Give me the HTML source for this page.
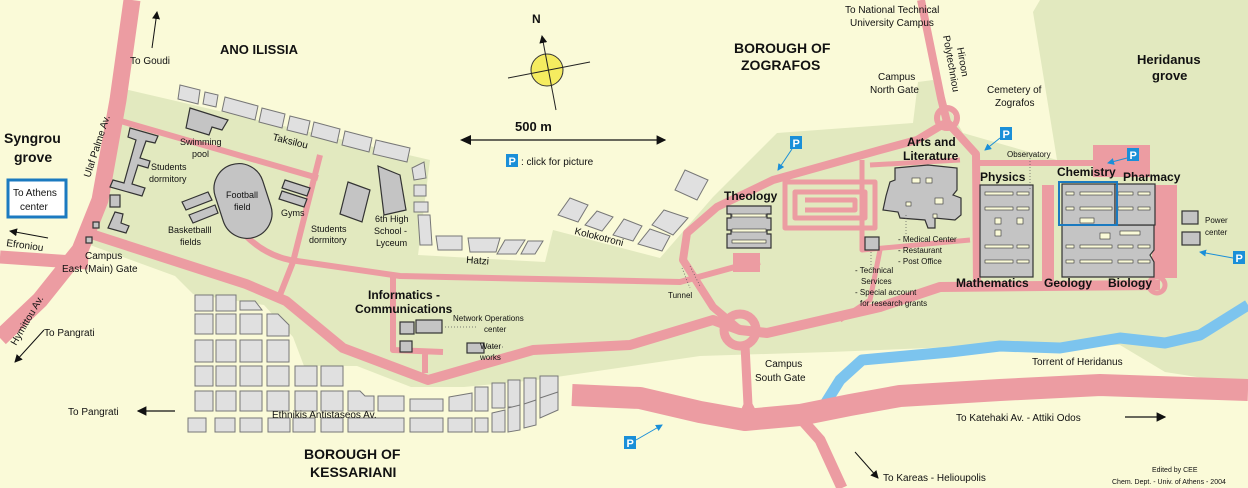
<!DOCTYPE html>
<html><head><meta charset="utf-8"><style>
html,body{margin:0;padding:0;background:#fafad8;}
svg{display:block;font-family:"Liberation Sans",sans-serif;}
.s{font-size:10px;fill:#111;}
.xs{font-size:9px;fill:#111;}
.b{font-size:12px;font-weight:bold;fill:#111;}
.h{font-size:14px;font-weight:bold;fill:#111;}
.r{fill:none;stroke:#ec9ca2;stroke-linejoin:round;stroke-linecap:butt;}
.bk{fill:#e0e0e0;stroke:#777;stroke-width:1;}
.bd{fill:#c4c4c4;stroke:#333;stroke-width:1.2;}
</style></head><body>
<svg width="1248" height="488" viewBox="0 0 1248 488" xmlns="http://www.w3.org/2000/svg">
<defs>
<g id="P"><rect x="0" y="0" width="12" height="13" fill="#1a8fd8"/><text x="2.5" y="11" style="font-size:11px;font-weight:bold;fill:#fff">P</text></g>
<marker id="ar" markerWidth="8" markerHeight="8" refX="7" refY="4" orient="auto"><path d="M0,0 L8,4 L0,8 Z" fill="#111"/></marker>
<marker id="ab" markerWidth="7" markerHeight="7" refX="6" refY="3.5" orient="auto"><path d="M0,0 L7,3.5 L0,7 Z" fill="#1a8fd8"/></marker>
</defs>
<rect width="1248" height="488" fill="#fafad8"/>
<path d="M120,88 L430,160 L418,255 L545,262 L553,230 L660,258 L713,197 L777,133 L913,123 L918,82 L933,80 L963,133 L1057,160 L1033,12 L1040,0 L1248,0 L1248,385 L1165,372 L1120,345 L1000,345 L880,350 L830,352 L700,356 L536,380 L464,387 L411,387 L357,366 L304,366 L293,337 L264,305 L193,294 L175,276 L90,245 L95,230 Z" fill="#e2e9bf"/>
<path d="M820,412 L840,380 L862,360 L950,352 L1000,346 L1060,348 L1120,338 L1165,343 L1200,335 L1248,305" fill="none" stroke="#7cc4ee" stroke-width="11" stroke-linejoin="round"/>
<path class="r" stroke-width="17" d="M132,0 L118,100 L100,200 L80,250 L40,300 L0,338"/>
<path class="r" stroke-width="13" d="M0,257 L88,263"/>
<path class="r" stroke-width="6" d="M117,120 L318,178"/>
<path class="r" stroke-width="6" d="M320,155 L293,262 L278,300"/>
<path class="r" stroke-width="10" d="M88,233 L246,284 L286,301 L343,348 L428,380 L533,350 L630,345 L713,320 L740,330 L767,333 L880,307 L940,287 L1160,285"/>
<path class="r" stroke-width="6" d="M245,235 Q265,255 290,260 L400,276 L680,282 L735,267 L760,262"/>
<path class="r" stroke-width="6" d="M393,276 L393,350 L443,352 M425,351 L425,373"/>
<path class="r" stroke-width="8" d="M740,330 L713,307 L683,260 L687,233 L717,207 L773,180 L880,150 L917,140 L947,122"/>
<path class="r" stroke-width="8" d="M921,0 L941,98 L947,122 L976,154 L977,287"/>
<circle cx="947" cy="118" r="10" class="r" stroke-width="6"/>
<path class="r" stroke-width="6" d="M975,163 L1150,163"/>
<rect x="1042" y="185" width="12" height="97" fill="#ec9ca2"/>
<rect x="1093" y="145" width="57" height="32" fill="#ec9ca2"/>
<rect x="1152" y="185" width="25" height="93" fill="#ec9ca2"/>
<rect x="1165" y="207" width="12" height="20" fill="#ec9ca2"/>
<circle cx="1157" cy="285" r="8" class="r" stroke-width="5"/>
<rect x="733" y="253" width="27" height="19" fill="#ec9ca2"/>
<circle cx="740" cy="330" r="16" class="r" stroke-width="9"/>
<path class="r" stroke-width="5" d="M785,182 L875,182 L875,228 L785,228 Z M795,192 L865,192 L865,218 L795,218 Z M805,200 L855,200 L855,210 L805,210"/>
<path class="r" stroke-width="5" d="M862,160 L862,250 L970,240 M870,165 L960,160"/>
<path class="r" stroke-width="5" d="M840,320 L870,300 L880,250"/>
<path class="r" stroke-width="22" d="M572,395 L640,398 L700,412 L745,420 L800,415 L850,405 L900,396 L1000,390 L1100,385 L1248,390"/>
<path class="r" stroke-width="9" d="M745,345 L748,405 L738,428 M748,405 L760,428"/>
<path class="r" stroke-width="11" d="M795,412 L820,440 L842,488"/>
<g class="bk">
<path d="M180,85 L200,90 L198,104 L178,99Z"/><path d="M205,92 L218,95 L216,107 L203,104Z"/>
<path d="M225,97 L258,106 L255,120 L222,111Z"/><path d="M262,108 L285,114 L282,128 L259,122Z"/>
<path d="M290,116 L310,121 L307,135 L287,130Z"/><path d="M314,122 L340,129 L337,143 L311,136Z"/>
<path d="M345,131 L372,138 L369,152 L342,145Z"/><path d="M376,140 L410,148 L407,162 L373,154Z"/>
<path d="M412,168 L424,162 L426,178 L414,180Z"/><path d="M414,185 L426,185 L426,196 L414,196Z"/>
<path d="M414,202 L428,202 L428,212 L414,212Z"/><path d="M418,215 L430,215 L432,245 L420,245Z"/>
<path d="M436,236 L462,236 L462,250 L438,250Z"/><path d="M468,238 L500,238 L496,252 L470,252Z"/>
<path d="M505,240 L525,240 L516,254 L497,254Z"/><path d="M528,241 L543,241 L535,254 L521,254Z"/>
<path d="M570,198 L588,205 L578,222 L558,215Z"/><path d="M597,211 L613,217 L602,231 L585,225Z"/>
<path d="M624,219 L642,226 L633,241 L613,235Z"/><path d="M650,229 L670,236 L662,251 L638,244Z"/>
<path d="M664,210 L688,218 L673,235 L652,225Z"/><path d="M685,170 L708,180 L697,200 L675,190Z"/>
</g>
<g class="bk">
<rect x="195" y="295" width="18" height="16"/><rect x="216" y="295" width="20" height="16"/><path d="M240,301 L255,301 L262,310 L240,310Z"/>
<rect x="195" y="314" width="18" height="20"/><rect x="216" y="314" width="20" height="20"/><rect x="240" y="314" width="22" height="20"/><path d="M267,314 L278,314 L289,325 L289,336 L267,336Z"/>
<rect x="195" y="340" width="18" height="22"/><rect x="216" y="340" width="20" height="22"/><rect x="240" y="340" width="22" height="22"/><rect x="267" y="340" width="22" height="22"/>
<rect x="195" y="366" width="18" height="20"/><rect x="216" y="366" width="20" height="20"/><rect x="240" y="366" width="22" height="20"/><rect x="267" y="366" width="22" height="20"/><rect x="295" y="366" width="22" height="20"/><rect x="321" y="366" width="22" height="20"/>
<rect x="195" y="391" width="18" height="20"/><rect x="216" y="391" width="20" height="20"/><rect x="240" y="391" width="22" height="20"/><rect x="267" y="391" width="22" height="20"/><rect x="295" y="391" width="22" height="20"/><rect x="321" y="391" width="22" height="20"/>
<path d="M348,391 L360,391 L365,396 L374,396 L374,411 L348,411Z"/><rect x="378" y="396" width="26" height="15"/><rect x="410" y="399" width="33" height="12"/><path d="M449,397 L472,393 L472,411 L449,411Z"/>
<rect x="475" y="387" width="13" height="24"/><rect x="492" y="383" width="13" height="25"/><rect x="508" y="380" width="12" height="27"/><rect x="524" y="378" width="12" height="26"/><rect x="540" y="376" width="18" height="22"/>
<rect x="188" y="418" width="18" height="14"/><rect x="215" y="418" width="20" height="14"/><rect x="240" y="418" width="22" height="14"/><rect x="268" y="418" width="22" height="14"/><rect x="293" y="418" width="22" height="14"/><rect x="321" y="418" width="22" height="14"/><rect x="348" y="418" width="56" height="14"/><rect x="410" y="418" width="33" height="14"/><rect x="448" y="418" width="24" height="14"/><rect x="475" y="418" width="13" height="14"/><path d="M492,413 L505,410 L505,432 L492,432Z"/><path d="M508,408 L520,405 L520,430 L508,432Z"/><path d="M524,404 L536,400 L536,425 L524,428Z"/><path d="M540,398 L558,392 L558,410 L540,418Z"/>
</g>
<g class="bd">
<path d="M130,128 L158,136 L155,143 L146,141 L140,158 L150,161 L148,168 L138,165 L132,184 L145,188 L142,196 L110,187 L113,180 L124,183 L136,140 L128,137Z"/>
<rect x="110" y="195" width="10" height="12"/><path d="M115,212 L123,214 L121,223 L129,226 L126,233 L108,228Z"/>
<rect x="93" y="222" width="6" height="6"/><rect x="86" y="237" width="6" height="6"/>
<path d="M190,108 L228,120 L222,130 L212,127 L209,135 L186,128Z"/>
<path d="M182,202 L208,192 L212,200 L186,210Z"/><path d="M189,215 L215,205 L218,213 L193,223Z"/>
<rect x="218" y="163" width="50" height="76" rx="25" transform="rotate(-18 243 201)"/>
<path d="M285,180 L310,188 L307,196 L282,188Z"/><path d="M282,191 L307,199 L304,207 L279,199Z"/>
<path d="M348,182 L370,190 L362,222 L340,214Z"/>
<path d="M378,166 L400,175 L406,210 L384,215Z"/>
<rect x="400" y="322" width="14" height="12"/><rect x="416" y="320" width="26" height="13"/><rect x="400" y="341" width="12" height="11"/><rect x="467" y="343" width="17" height="10"/>
<rect x="865" y="237" width="14" height="13"/>
<path d="M727,206 L771,206 L771,214 L767,214 L767,218 L771,218 L771,230 L767,230 L767,234 L771,234 L771,248 L727,248 L727,234 L731,234 L731,230 L727,230 L727,218 L731,218 L731,214 L727,214Z"/>
<path d="M895,168 L928,165 L957,168 L957,190 L953,195 L961,198 L961,215 L955,220 L935,218 L935,228 L928,228 L925,220 L900,218 L898,212 L883,210 L886,196 L890,182 L895,180Z"/>
<rect x="980" y="185" width="53" height="92"/>
<rect x="1062" y="184" width="53" height="41"/>
<path d="M1062,225 L1154,225 L1154,250 L1150,255 L1154,262 L1154,277 L1062,277Z"/>
<rect x="1115" y="184" width="40" height="41"/>
<rect x="1182" y="211" width="16" height="13"/><rect x="1182" y="232" width="18" height="13"/>
</g>
<g fill="#fafad8" stroke="#333" stroke-width="0.6">
<rect x="985" y="192" width="28" height="3"/><rect x="1017" y="192" width="12" height="3"/>
<rect x="985" y="207" width="28" height="3"/><rect x="1017" y="207" width="12" height="3"/>
<rect x="995" y="218" width="6" height="6"/><rect x="1017" y="218" width="6" height="6"/><rect x="995" y="230" width="6" height="6"/>
<rect x="985" y="245" width="28" height="3"/><rect x="1017" y="245" width="12" height="3"/>
<rect x="985" y="260" width="28" height="3"/><rect x="1017" y="260" width="12" height="3"/>
<rect x="1066" y="192" width="8" height="3"/><rect x="1080" y="192" width="32" height="3"/><rect x="1118" y="192" width="15" height="3"/><rect x="1138" y="192" width="12" height="3"/>
<rect x="1066" y="207" width="8" height="3"/><rect x="1080" y="207" width="32" height="3"/><rect x="1118" y="207" width="15" height="3"/><rect x="1138" y="207" width="12" height="3"/>
<rect x="1080" y="218" width="14" height="5"/><rect x="1100" y="233" width="10" height="6"/><rect x="1120" y="231" width="20" height="4"/>
<rect x="1066" y="245" width="8" height="3"/><rect x="1080" y="245" width="32" height="3"/><rect x="1118" y="245" width="15" height="3"/><rect x="1138" y="245" width="12" height="3"/>
<rect x="1066" y="260" width="8" height="3"/><rect x="1080" y="260" width="32" height="3"/><rect x="1118" y="260" width="15" height="3"/><rect x="1138" y="260" width="12" height="3"/>
<rect x="732" y="214" width="34" height="3"/><rect x="732" y="229" width="34" height="3"/><rect x="732" y="240" width="34" height="3"/>
<rect x="912" y="178" width="8" height="5"/><rect x="926" y="178" width="6" height="5"/><rect x="935" y="198" width="8" height="6"/><rect x="906" y="202" width="5" height="4"/><rect x="933" y="214" width="4" height="4"/>
</g>
<rect x="1059" y="182" width="58" height="43" fill="none" stroke="#1b7ac0" stroke-width="2"/>
<rect x="8" y="180" width="58" height="37" fill="#fff" stroke="#1b7ac0" stroke-width="3"/>
<circle cx="547" cy="70" r="16" fill="#f5ec60" stroke="#333" stroke-width="1"/>
<line x1="508" y1="78" x2="590" y2="62" stroke="#222" stroke-width="1"/>
<line x1="556" y1="110" x2="542" y2="36" stroke="#222" stroke-width="1" marker-end="url(#ar)"/>
<text x="532" y="23" class="b">N</text>
<text x="515" y="131" style="font-size:13px;font-weight:bold;fill:#111">500 m</text>
<line x1="468" y1="140" x2="665" y2="140" stroke="#111" stroke-width="1.2" marker-end="url(#ar)"/>
<path d="M460,140 L471,135 L471,145Z" fill="#111"/>
<use href="#P" x="506" y="154"/>
<text x="521" y="165" class="s">:   click for picture</text>
<use href="#P" x="790" y="136"/><line x1="792" y1="149" x2="778" y2="170" stroke="#1a8fd8" marker-end="url(#ab)"/>
<use href="#P" x="1000" y="127"/><line x1="1000" y1="138" x2="985" y2="150" stroke="#1a8fd8" marker-end="url(#ab)"/>
<use href="#P" x="1127" y="148"/><line x1="1127" y1="158" x2="1108" y2="163" stroke="#1a8fd8" marker-end="url(#ab)"/>
<use href="#P" x="1233" y="251"/><line x1="1233" y1="258" x2="1200" y2="252" stroke="#1a8fd8" marker-end="url(#ab)"/>
<use href="#P" x="624" y="436"/><line x1="636" y1="440" x2="662" y2="425" stroke="#1a8fd8" marker-end="url(#ab)"/>
<line x1="152" y1="48" x2="157" y2="12" stroke="#111" marker-end="url(#ar)"/>
<line x1="48" y1="238" x2="10" y2="231" stroke="#111" marker-end="url(#ar)"/>
<line x1="44" y1="330" x2="15" y2="362" stroke="#111" marker-end="url(#ar)"/>
<line x1="175" y1="411" x2="138" y2="411" stroke="#111" stroke-width="1.2" marker-end="url(#ar)"/>
<line x1="1125" y1="417" x2="1165" y2="417" stroke="#111" stroke-width="1.2" marker-end="url(#ar)"/>
<line x1="855" y1="452" x2="878" y2="478" stroke="#111" marker-end="url(#ar)"/>
<g stroke="#555" stroke-width="0.7" stroke-dasharray="1,2" fill="none">
<line x1="445" y1="327" x2="478" y2="327"/><line x1="484" y1="347" x2="503" y2="347"/>
<line x1="1030" y1="158" x2="1030" y2="190"/><line x1="906" y1="215" x2="906" y2="237"/><line x1="871" y1="252" x2="871" y2="268"/>
<line x1="682" y1="268" x2="690" y2="288"/><line x1="690" y1="266" x2="700" y2="286"/>
</g>
<text x="130" y="64" class="s">To Goudi</text>
<text x="220" y="54" class="h" style="font-size:13px">ANO ILISSIA</text>
<text x="4" y="143" class="h">Syngrou</text><text x="14" y="162" class="h">grove</text>
<text x="90" y="178" class="s" transform="rotate(-72 90 178)">Ulaf Palme Av.</text>
<text x="13" y="196" class="s">To Athens</text><text x="20" y="210" class="s">center</text>
<text x="6" y="246" class="s" transform="rotate(8 6 246)">Efroniou</text>
<text x="85" y="259" class="s">Campus</text><text x="62" y="272" class="s">East (Main) Gate</text>
<text x="16" y="346" class="s" transform="rotate(-60 16 346)">Hymittou Av.</text>
<text x="44" y="336" class="s">To Pangrati</text>
<text x="68" y="415" class="s">To Pangrati</text>
<text x="180" y="145" class="xs">Swimming</text><text x="192" y="157" class="xs">pool</text>
<text x="272" y="140" class="s" transform="rotate(14 272 140)">Taksilou</text>
<text x="151" y="170" class="xs">Students</text><text x="149" y="182" class="xs">dormitory</text>
<text x="226" y="198" class="xs">Football</text><text x="234" y="210" class="xs">field</text>
<text x="281" y="216" class="xs">Gyms</text>
<text x="168" y="233" class="xs">Basketballl</text><text x="180" y="245" class="xs">fields</text>
<text x="311" y="232" class="xs">Students</text><text x="309" y="243" class="xs">dormitory</text>
<text x="375" y="222" class="xs">6th High</text><text x="374" y="234" class="xs">School -</text><text x="376" y="246" class="xs">Lyceum</text>
<text x="466" y="263" class="s" transform="rotate(4 466 263)">Hatzi</text>
<text x="574" y="234" class="s" transform="rotate(14 574 234)">Kolokotroni</text>
<text x="368" y="299" class="b">Informatics -</text><text x="355" y="313" class="b">Communications</text>
<text x="453" y="321" class="xs" style="font-size:8px">Network Operations</text><text x="484" y="332" class="xs" style="font-size:8px">center</text>
<text x="480" y="349" class="xs" style="font-size:8px">Water</text><text x="480" y="360" class="xs" style="font-size:8px">works</text>
<text x="272" y="418" class="s">Ethnikis Antistaseos Av.</text>
<text x="304" y="459" class="h">BOROUGH OF</text><text x="310" y="477" class="h">KESSARIANI</text>
<text x="668" y="298" class="xs" style="font-size:8px">Tunnel</text>
<text x="724" y="200" class="b">Theology</text>
<text x="734" y="53" class="h">BOROUGH OF</text><text x="741" y="70" class="h">ZOGRAFOS</text>
<text x="845" y="13" class="s">To National Technical</text><text x="850" y="26" class="s">University Campus</text>
<text x="957" y="48" class="s" transform="rotate(80 957 48)">Hiroon</text>
<text x="943" y="36" class="s" transform="rotate(80 943 36)">Polytechniou</text>
<text x="878" y="80" class="s">Campus</text><text x="870" y="93" class="s">North Gate</text>
<text x="987" y="93" class="s">Cemetery of</text><text x="995" y="106" class="s">Zografos</text>
<text x="1137" y="64" class="h" style="font-size:13px">Heridanus</text><text x="1152" y="80" class="h" style="font-size:13px">grove</text>
<text x="907" y="146" class="b">Arts and</text><text x="903" y="160" class="b">Literature</text>
<text x="1007" y="157" class="xs" style="font-size:8px">Observatory</text>
<text x="980" y="181" class="b">Physics</text>
<text x="1057" y="176" class="b">Chemistry</text><text x="1123" y="181" class="b">Pharmacy</text>
<text x="956" y="287" class="b">Mathematics</text><text x="1044" y="287" class="b">Geology</text><text x="1108" y="287" class="b">Biology</text>
<text x="1205" y="223" class="xs" style="font-size:8px">Power</text><text x="1205" y="235" class="xs" style="font-size:8px">center</text>
<text x="898" y="242" class="xs" style="font-size:8px">- Medical Center</text><text x="898" y="253" class="xs" style="font-size:8px">- Restaurant</text><text x="898" y="264" class="xs" style="font-size:8px">- Post Office</text>
<text x="855" y="273" class="xs" style="font-size:8px">- Technical</text><text x="861" y="284" class="xs" style="font-size:8px">Services</text><text x="855" y="295" class="xs" style="font-size:8px">- Special account</text><text x="860" y="306" class="xs" style="font-size:8px">for research grants</text>
<text x="765" y="367" class="s">Campus</text><text x="755" y="381" class="s">South Gate</text>
<text x="1032" y="365" class="s">Torrent of Heridanus</text>
<text x="956" y="421" class="s">To Katehaki Av. - Attiki Odos</text>
<text x="883" y="481" class="s">To Kareas - Helioupolis</text>
<text x="1152" y="472" style="font-size:7px;fill:#111">Edited by CEE</text>
<text x="1112" y="484" style="font-size:7px;fill:#111">Chem. Dept. - Univ. of Athens - 2004</text>
</svg>
</body></html>
